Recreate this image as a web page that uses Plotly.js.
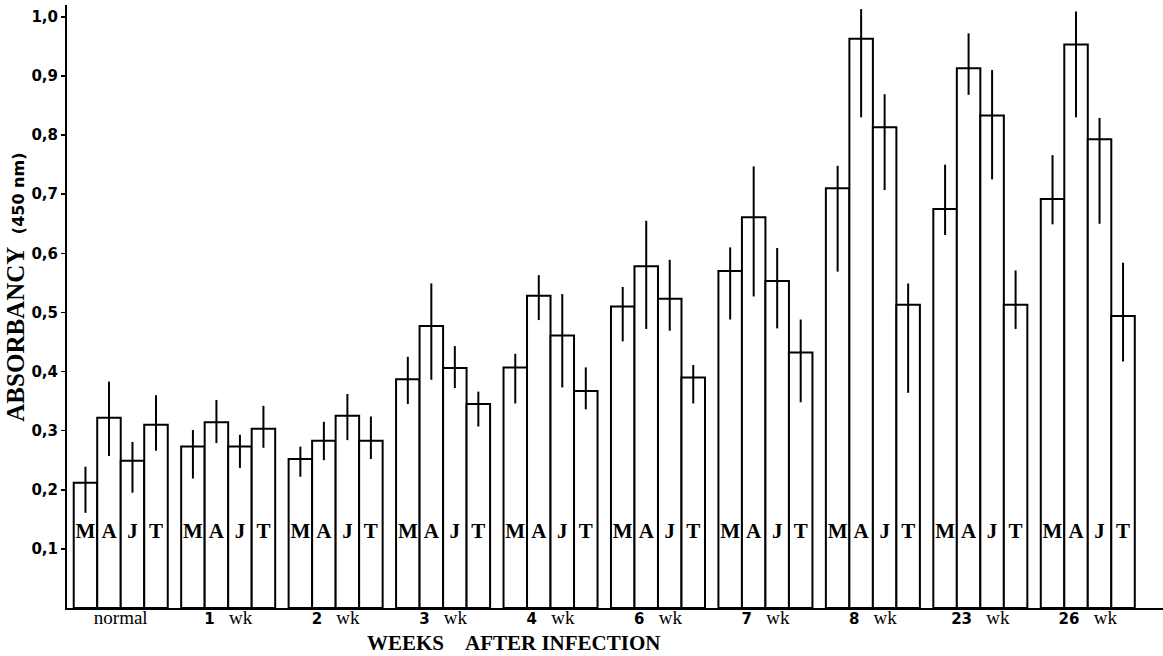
<!DOCTYPE html>
<html>
<head>
<meta charset="utf-8">
<script src="https://cdn.plot.ly/plotly-3.0.1.min.js"></script>
<style>
  html, body { margin: 0; padding: 0; background: #ffffff; }
  #chart { width: 1163px; height: 656px; }
</style>
</head>
<body>
<div id="chart"></div>
<script>
// ---- Data ----
const groups = ["normal", "1 wk", "2 wk", "3 wk", "4 wk", "6 wk", "7 wk", "8 wk", "23 wk", "26 wk"];
const seriesNames = ["M", "A", "J", "T"];

// mean absorbancy (450 nm)
const meanM = [0.212, 0.273, 0.252, 0.387, 0.407, 0.510, 0.570, 0.710, 0.675, 0.692];
const meanA = [0.322, 0.314, 0.283, 0.477, 0.528, 0.578, 0.661, 0.963, 0.913, 0.953];
const meanJ = [0.249, 0.273, 0.325, 0.406, 0.461, 0.523, 0.553, 0.813, 0.833, 0.793];
const meanT = [0.310, 0.303, 0.283, 0.345, 0.367, 0.390, 0.432, 0.513, 0.513, 0.494];

// upper end of the error line
const highM = [0.239, 0.301, 0.273, 0.425, 0.430, 0.543, 0.610, 0.748, 0.750, 0.766];
const highA = [0.383, 0.352, 0.315, 0.549, 0.563, 0.655, 0.747, 1.013, 0.972, 1.009];
const highJ = [0.281, 0.293, 0.362, 0.443, 0.531, 0.589, 0.609, 0.869, 0.910, 0.829];
const highT = [0.360, 0.342, 0.324, 0.366, 0.407, 0.411, 0.488, 0.549, 0.571, 0.584];

// lower end of the error line
const lowM = [0.161, 0.219, 0.222, 0.345, 0.346, 0.451, 0.488, 0.569, 0.631, 0.649];
const lowA = [0.257, 0.279, 0.250, 0.386, 0.487, 0.472, 0.527, 0.830, 0.868, 0.830];
const lowJ = [0.195, 0.237, 0.284, 0.372, 0.373, 0.469, 0.473, 0.707, 0.725, 0.650];
const lowT = [0.266, 0.271, 0.252, 0.307, 0.336, 0.346, 0.348, 0.364, 0.472, 0.417];

const yTickVals = [0.1, 0.2, 0.3, 0.4, 0.5, 0.6, 0.7, 0.8, 0.9, 1.0];
const yTickText = ["0,1", "0,2", "0,3", "0,4", "0,5", "0,6", "0,7", "0,8", "0,9", "1,0"];

// ---- Build traces ----
const means = [meanM, meanA, meanJ, meanT];
const highs = [highM, highA, highJ, highT];
const lows = [lowM, lowA, lowJ, lowT];

const SERIF = "Liberation Serif, Times New Roman, serif";
const SANS = "DejaVu Sans, sans-serif";
const GAP = 0.125;
const LETTER_LEVEL = 0.128;

const traces = [];
seriesNames.forEach((name, k) => {
  const m = means[k];
  traces.push({
    type: "bar",
    name: name,
    x: groups,
    y: m,
    offsetgroup: name,
    marker: { color: "#ffffff", line: { color: "#000000", width: 2 } },
    error_y: {
      type: "data",
      symmetric: false,
      array: highs[k].map((h, i) => h - m[i]),
      arrayminus: lows[k].map((l, i) => m[i] - l),
      color: "#000000",
      thickness: 2,
      width: 0
    },
    hoverinfo: "skip",
    showlegend: false
  });
});
seriesNames.forEach((name) => {
  traces.push({
    type: "scatter",
    mode: "text",
    x: groups,
    y: groups.map(() => LETTER_LEVEL),
    text: groups.map(() => name),
    offsetgroup: name,
    textposition: "middle center",
    textfont: { family: SERIF, size: 21, color: "#000000", weight: "bold" },
    cliponaxis: false,
    hoverinfo: "skip",
    showlegend: false
  });
});

const xTickText = groups.map(g => {
  const mt = g.match(/^(\d+) wk$/);
  if (!mt) return g;
  return "<span style='font-family:DejaVu Sans;font-weight:bold;font-size:15px'>" + mt[1] +
         "</span>\u00a0\u00a0\u00a0wk";
});

const layout = {
  width: 1163,
  height: 656,
  margin: { l: 67, r: 0, t: 5, b: 48, pad: 0 },
  paper_bgcolor: "#ffffff",
  plot_bgcolor: "#ffffff",
  barmode: "group",
  bargap: GAP,
  bargroupgap: 0,
  scattermode: "group",
  scattergap: GAP,
  showlegend: false,
  xaxis: {
    type: "category",
    range: [-0.5, 9.7],
    tickvals: groups,
    ticktext: xTickText,
    showline: true,
    linecolor: "#000000",
    linewidth: 2,
    showgrid: false,
    zeroline: false,
    ticks: "",
    ticklabelstandoff: -9,
    tickfont: { family: SERIF, size: 19, color: "#000000" },
    fixedrange: true
  },
  yaxis: {
    range: [0, 1.02],
    tickvals: yTickVals,
    ticktext: yTickText,
    showline: true,
    linecolor: "#000000",
    linewidth: 2,
    showgrid: false,
    zeroline: false,
    ticks: "outside",
    ticklen: 4,
    tickwidth: 1.5,
    tickcolor: "#000000",
    tickfont: { family: SANS, size: 15, color: "#000000", weight: "bold" },
    fixedrange: true
  },
  annotations: [
    {
      xref: "paper", yref: "paper",
      x: -0.047, y: 0.532,
      xanchor: "center", yanchor: "middle",
      textangle: -90,
      showarrow: false,
      text: "<b>ABSORBANCY</b>\u00a0\u00a0<span style='font-family:DejaVu Sans;font-size:16px;font-weight:bold'>(450\u00a0nm)</span>",
      font: { family: SERIF, size: 25, color: "#000000" }
    },
    {
      xref: "paper", yref: "paper",
      x: 0.407, y: -0.058,
      xanchor: "center", yanchor: "middle",
      showarrow: false,
      text: "<b>WEEKS\u00a0\u00a0\u00a0\u00a0AFTER\u00a0INFECTION</b>",
      font: { family: SERIF, size: 21, color: "#000000" }
    }
  ]
};

Plotly.newPlot("chart", traces, layout, { displayModeBar: false, staticPlot: true });
</script>
</body>
</html>
